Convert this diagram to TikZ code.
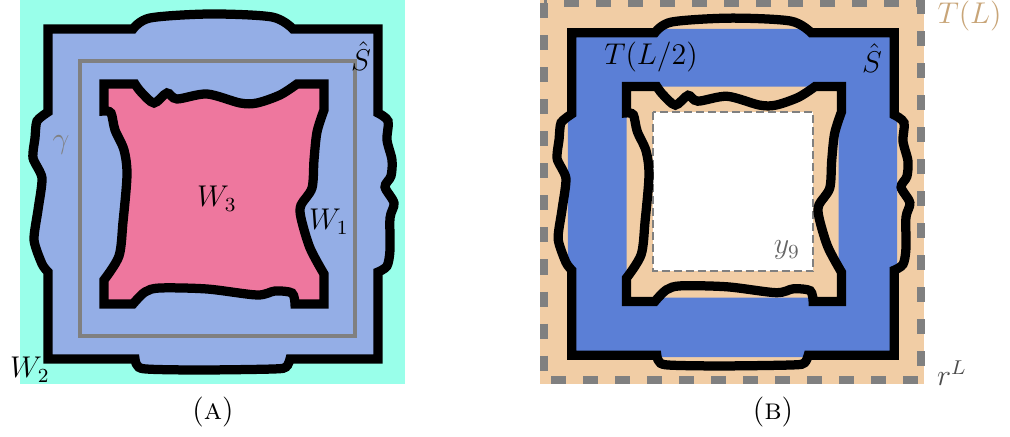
\documentclass[tikz,border=0pt]{standalone}
\usepackage{amsmath}
\usepackage{amssymb}
\usetikzlibrary{calc}
\definecolor{seacyan}{RGB}{153,255,234}
\definecolor{paleblue}{RGB}{148,174,230}
\definecolor{rosepink}{RGB}{238,119,158}
\definecolor{peach}{RGB}{241,205,165}
\definecolor{deepblue}{RGB}{91,127,214}
\definecolor{tancol}{RGB}{200,165,120}
\tikzset{wall/.style={draw=black, line width=3.7pt},
gammaline/.style={draw=gray, line width=1.8pt},
borderline/.style={draw=gray, line width=3.2pt, dash pattern=on 6pt off 6.8pt},
boxline/.style={draw=gray, line width=0.8pt, dash pattern=on 3.2pt off 1.6pt},
lbl/.style={inner sep=0pt, font=\large},
capt/.style={inner sep=0pt, font=\large}}
% outer wall S-hat, in the frame of panel (A)
\newcommand{\shatpath}{(48,29) -- (133,29)
  -- plot[smooth, tension=0.5] coordinates {(133,29) (150,18) (210,14) (272,17) (293,29)}
  -- (378,29) -- (378,113)
  -- plot[smooth, tension=0.5] coordinates {(378,113) (388,121) (387,140) (392,160)
     (391,176) (385,187) (394,203) (390,218) (390,250) (387,266) (378,272)}
  -- (378,359) -- (290,359)
  -- plot[smooth, tension=0.5] coordinates {(290,359) (286,367) (273,369) (200,370) (146,369) (137,365) (135,359)}
  -- (48,359) -- (48,272)
  -- plot[smooth, tension=0.4] coordinates {(48,272) (42,264) (34,240) (38,210) (42,178)
     (33,158) (35,138) (37,121) (48,112)}
  -- cycle}
% inner wall around W_3
\newcommand{\innerpath}{(104,84) -- (135,84)
  -- plot[smooth, tension=0.5] coordinates {(135,84) (141,92) (154,103) (167,93) (177,99)
     (207,94) (240,103) (257,103) (280,95) (297,84)}
  -- (324,84) -- (324,110)
  -- plot[smooth, tension=0.5] coordinates {(324,110) (317,132) (314,160) (312,188) (301,205)
     (301,218) (310,248) (324,274)}
  -- (324,304) -- (295,304)
  -- plot[smooth, tension=0.5] coordinates {(295,304) (292,293) (275,291) (257,295) (207,289)
     (160,288) (145,292) (133,304)}
  -- (104,304) -- (104,280)
  -- plot[smooth, tension=0.5] coordinates {(104,280) (119,256) (123,222) (127,175) (124,150)
     (115,130) (111,113) (104,111)}
  -- cycle}

\begin{document}
\begin{tikzpicture}[x=0.4pt, y=-0.4pt]
  \useasboundingbox (0,0) rectangle (1010,437);

  % (A)
  \fill [seacyan] (20,0) rectangle (405,384);
  \draw [wall, fill=paleblue] \shatpath;
  \draw [gammaline] (80,61) rectangle (355,336);
  \draw [wall, fill=rosepink] \innerpath;

  \node (shatA) [lbl] at (361,56) {$\hat{S}$};
  \node (gamma) [lbl, text=gray] at (61,145) {$\gamma$};
  \node (w3) [lbl] at (217,199) {$W_3$};
  \node (w1) [lbl] at (329,222) {$W_1$};
  \node (w2) [lbl] at (30,370) {$W_2$};

  % (B)
  \fill [peach] (540,0) rectangle (924,384);
  \draw [borderline] (544,3.5) rectangle (920.5,380.5);
  \begin{scope}[shift={(520,0)}, shift={(213,194)}, scale=0.977, shift={(-213,-194)}]
    \fill [deepblue, even odd rule] (44,25) rectangle (381,361) (104,84) rectangle (321,300);
    \draw [boxline, fill=white] (131,110) rectangle (295,273);
    \draw [wall] \shatpath;
    \draw [wall] \innerpath;
  \end{scope}

  \node (tlhalf) [lbl] at (651,57) {$T(L/2)$};
  \node (shatB) [lbl] at (872,58) {$\hat{S}$};
  \node (y9) [lbl, text=black!60] at (787,250) {$y_9$};
  \node (tl) [lbl, text=tancol, anchor=west] at (937,16) {$T(L)$};
  \node (rl) [lbl, text=black!70] at (952,373) {$r^L$};

  \node (captA) [capt] at (213,412) {(\textsc{a})};
  \node (captB) [capt] at (773,412) {(\textsc{b})};
\end{tikzpicture}
\end{document}
